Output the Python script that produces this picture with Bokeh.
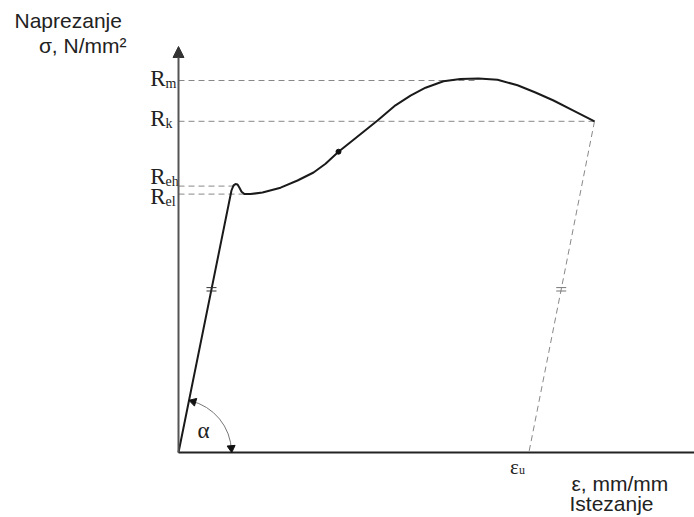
import math
from bokeh.plotting import figure
from bokeh.models import Range1d, Arrow, NormalHead, ColumnDataSource
from bokeh.core.properties import value
from bokeh.embed import file_html
from bokeh.resources import INLINE

# ---------------- data (schematic stress-strain diagram) ----------------
strain = [0, 3.31, 3.44, 3.56, 3.69, 3.81, 3.94, 4.12, 4.5, 5.25, 6.38, 7.44,
          8.44, 9.19, 10.0, 10.94, 12.44, 13.56, 14.5, 15.44, 16.56, 17.62,
          18.75, 19.94, 21.19, 22.31, 23.44, 24.62, 26.0]
stress = [0, 327.5, 334, 335.5, 335, 331, 326, 323, 323, 325, 331, 340,
          350, 361, 376, 391, 415, 434, 446, 456, 464, 467,
          467.5, 466, 459, 450, 440, 428, 414]

level_subs = ["m", "k", "eh", "el"]
level_values = [465, 414, 333, 323]
level_ends = [18.75, 26.0, 3.56, 4.12]

eps_u = 21.9
mark_strain = [10.0]
mark_stress = [376]
hash_stress = 204
y_axis_top = 507.5

# ---------------- layout helpers ----------------
W, H = 694, 517
X_PX, Y_PX = 16.0, 0.8          # pixels per data unit
OX, OY = 178, 452               # page position of origin
TB = -7                         # text baseline correction (px)


def dx(px):
    return (px - OX) / X_PX


def dy(py):
    return (OY - py - TB) / Y_PX


p = figure(width=W, height=H, output_backend="svg", toolbar_location=None,
           x_range=Range1d(dx(0), dx(W)), y_range=Range1d((OY - H) / Y_PX, OY / Y_PX),
           min_border=0, x_axis_location=None, y_axis_location=None)
p.grid.visible = False
p.outline_line_color = None
p.background_fill_color = "white"

SANS = value("Liberation Sans")
SERIF = value("Liberation Serif")
TXT = "#222222"

# axes
p.segment(x0=[0], y0=[0], x1=[dx(W)], y1=[0], line_color="#222222", line_width=2)
p.add_layout(Arrow(x_start=0, y_start=0, x_end=0, y_end=y_axis_top,
                   line_color="#555555", line_width=2,
                   end=NormalHead(size=11, fill_color="#333333", line_color="#333333")))

# dashed level lines
p.segment(x0=[0] * len(level_values), y0=level_values, x1=level_ends, y1=level_values,
          line_color="#888888", line_width=1, line_dash="6 4")

# unloading line
p.segment(x0=[level_ends[1]], y0=[level_values[1]], x1=[eps_u], y1=[0],
          line_color="#888888", line_width=1, line_dash="6 4")

# main curve
p.line(strain, stress, line_color="#1a1a1a", line_width=2)
p.scatter(mark_strain, mark_stress, size=5, color="#111111")

# hash marks (parallel lines)
hx1 = strain[1] * hash_stress / stress[1]
hx2 = level_ends[1] - (level_ends[1] - eps_u) * (level_values[1] - hash_stress) / level_values[1]
half = 5 / X_PX
sep = 1.7 / Y_PX
for hx, col in [(hx1, "#333333"), (hx2, "#777777")]:
    p.segment(x0=[hx - half, hx - half], y0=[hash_stress + sep, hash_stress - sep],
              x1=[hx + half, hx + half], y1=[hash_stress + sep, hash_stress - sep],
              line_color=col, line_width=1)

# angle arc alpha
theta_e = math.atan2(stress[1] * Y_PX, strain[1] * X_PX)
R_ARC = 53
p.arc(x=[0], y=[0], radius=R_ARC, radius_units="screen",
      start_angle=0.03, end_angle=theta_e - 0.03, line_color="#777777", line_width=1)
tb = 0.085
tt = theta_e - 0.085
p.scatter(x=[R_ARC * math.cos(tb) / X_PX, R_ARC * math.cos(tt) / X_PX],
          y=[R_ARC * math.sin(tb) / Y_PX, R_ARC * math.sin(tt) / Y_PX],
          marker="triangle", size=8, angle=[math.pi + tb, tt],
          fill_color="#111111", line_color="#111111")
p.text(x=[dx(203)], y=[dy(437)], text=["α"], text_font=SERIF, text_font_size="23px",
       text_align="center", text_baseline="alphabetic", text_color=TXT)

# R labels
r_offsets = [5 + TB, 4 + TB, -2.5 + TB, 9 + TB]
src_r = ColumnDataSource(dict(x=[0] * 4, y=level_values, t=["R"] * 4,
                              yo=r_offsets, yo2=[o + 5 for o in r_offsets], s=level_subs))
p.text(x="x", y="y", text="t", source=src_r, x_offset=-13, y_offset="yo",
       text_font=SERIF, text_font_size="23px", text_align="right",
       text_baseline="alphabetic", text_color=TXT)
p.text(x="x", y="y", text="s", source=src_r, x_offset=-13, y_offset="yo2",
       text_font=SERIF, text_font_size="14px", text_align="left",
       text_baseline="alphabetic", text_color=TXT)

# epsilon_u label
p.text(x=[eps_u], y=[0], text=["ε"], x_offset=-10, y_offset=21 + TB, text_font=SERIF,
       text_font_size="21px", text_align="right", text_baseline="alphabetic",
       text_color=TXT)
p.text(x=[eps_u], y=[0], text=["u"], x_offset=-10, y_offset=24 + TB, text_font=SERIF,
       text_font_size="12px", text_align="left", text_baseline="alphabetic",
       text_color=TXT)

# axis titles
p.text(x=[dx(14)], y=[dy(27)], text=["Naprezanje"], text_font=SANS, text_font_size="21px",
       text_align="left", text_baseline="alphabetic", text_color=TXT)
p.text(x=[dx(126)], y=[dy(52)], text=["σ, N/mm²"], text_font=SANS, text_font_size="21px",
       text_align="right", text_baseline="alphabetic", text_color=TXT)
p.text(x=[dx(571)], y=[dy(490)], text=["ε, mm/mm"], text_font=SANS, text_font_size="21px",
       text_align="left", text_baseline="alphabetic", text_color=TXT)
p.text(x=[dx(569)], y=[dy(510)], text=["Istezanje"], text_font=SANS, text_font_size="21px",
       text_align="left", text_baseline="alphabetic", text_color=TXT)

open("out.html", "w").write(file_html(p, INLINE))
